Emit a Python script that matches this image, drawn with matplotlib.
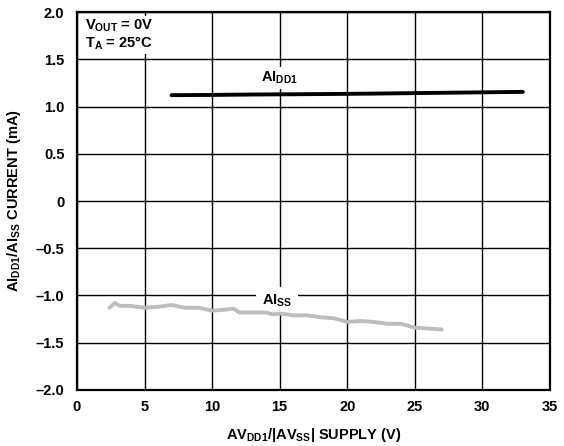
import matplotlib
matplotlib.use("Agg")
import matplotlib.pyplot as plt
import numpy as np

plt.rcParams['font.family'] = ['Liberation Sans', 'DejaVu Sans']
plt.rcParams['font.weight'] = 'bold'
plt.rcParams['mathtext.fontset'] = 'custom'
plt.rcParams['mathtext.rm'] = 'Liberation Sans:bold'
plt.rcParams['mathtext.bf'] = 'Liberation Sans:bold'
plt.rcParams['mathtext.it'] = 'Liberation Sans:bold'

# supply voltage vs AIDD1 current
idd_x = [7, 10, 13, 16, 19, 22, 25, 28, 31, 33]
idd_y = [1.12, 1.123, 1.127, 1.13, 1.133, 1.137, 1.142, 1.147, 1.152, 1.155]

# supply voltage vs AISS current
iss_x = [2.4, 2.8, 3.2, 4.0, 5.0, 6.0, 7.0, 8.0, 9.0, 10.0, 11.0, 11.6, 12.0,
         13.0, 14.0, 14.5, 15.0, 16.0, 17.0, 18.0, 19.0, 20.0, 21.0, 22.0,
         23.0, 24.0, 24.5, 25.0, 26.0, 27.0]
iss_y = [-1.13, -1.08, -1.11, -1.11, -1.13, -1.12, -1.10, -1.13, -1.13, -1.16,
         -1.15, -1.14, -1.18, -1.18, -1.18, -1.20, -1.19, -1.21, -1.21, -1.23,
         -1.24, -1.28, -1.27, -1.28, -1.30, -1.30, -1.32, -1.34, -1.35, -1.36]

xticks = np.arange(0, 36, 5)
yticks = [-2.0, -1.5, -1.0, -0.5, 0, 0.5, 1.0, 1.5, 2.0]
ylabels = ['\u20132.0', '\u20131.5', '\u20131.0', '\u20130.5', '0', '0.5', '1.0', '1.5', '2.0']

fs = 10.5

fig = plt.figure(figsize=(5.64, 4.46), dpi=100)
ax = fig.add_axes([0.1365, 0.1256, 0.8385, 0.8474])

ax.plot(idd_x, idd_y, color='black', linewidth=2.8, solid_capstyle='round', zorder=5)
ax.plot(iss_x, iss_y, color='#bdbdbd', linewidth=2.8, solid_capstyle='round', zorder=5)

ax.set_xlim(0, 35)
ax.set_ylim(-2.0, 2.0)
ax.set_xticks(xticks)
ax.set_yticks(yticks)
ax.set_yticklabels(ylabels)
ax.grid(True, color='black', linewidth=1.0)
ax.set_axisbelow(True)
ax.tick_params(axis='y', length=0, labelsize=fs, pad=9)
ax.tick_params(axis='x', length=0, labelsize=fs, pad=7)
for s in ax.spines.values():
    s.set_linewidth(1.6)

ax.set_xlabel(r'AV$_{\mathrm{DD1}}$/|AV$_{\mathrm{SS}}$| SUPPLY (V)', fontsize=fs, fontweight='bold', labelpad=9)
ax.set_ylabel(r'AI$_{\mathrm{DD1}}$/AI$_{\mathrm{SS}}$ CURRENT (mA)', fontsize=fs, fontweight='bold', labelpad=9)

ax.text(0.6, 1.94, 'V$_{\\mathrm{OUT}}$ = 0V\nT$_{\\mathrm{A}}$ = 25\u00b0C', fontsize=fs, fontweight='bold',
        va='top', ha='left', linespacing=1.05,
        bbox=dict(facecolor='white', edgecolor='none', pad=1.5), zorder=4)
ax.text(15.0, 1.30, r'AI$_{\mathrm{DD1}}$', fontsize=fs, fontweight='bold', ha='center', va='center',
        bbox=dict(facecolor='white', edgecolor='none', pad=2), zorder=4)
ax.text(14.8, -1.055, r'AI$_{\mathrm{SS}}$', fontsize=fs, fontweight='bold', ha='center', va='center',
        bbox=dict(facecolor='white', edgecolor='none', pad=4), zorder=4)

fig.savefig('out.png', dpi=100)
